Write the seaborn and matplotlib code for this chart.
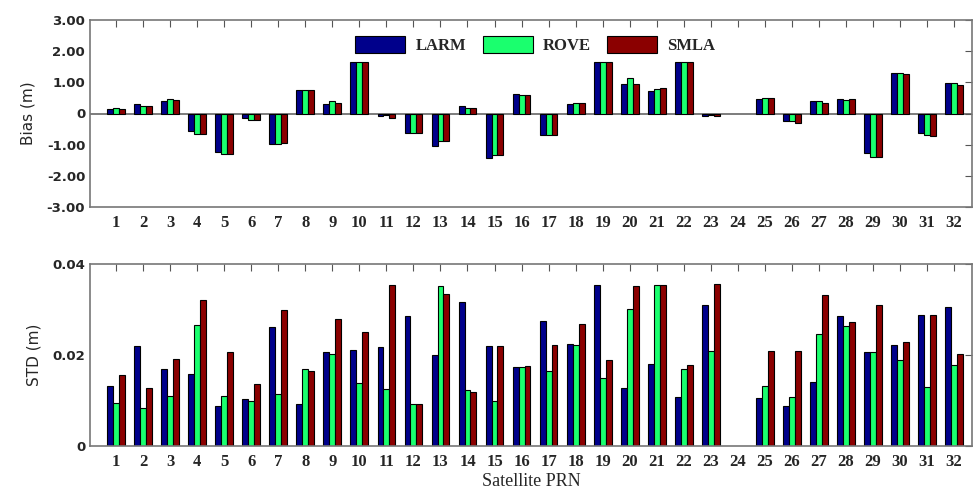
import numpy as np
import pandas as pd
import matplotlib
import matplotlib.pyplot as plt

matplotlib.use("Agg")
import seaborn as sns

sns.set_style("white")

prn = [str(i) for i in range(1, 33)]
receivers = ["LARM", "ROVE", "SMLA"]
colors = ["#00008b", "#1aff6e", "#8b0000"]

# bias (m), values above ~1.65 are cut off in the original
bias_larm = [0.14, 0.30, 0.40, -0.57, -1.22, -0.16, -0.99, 0.75, 0.30, 1.65, -0.09, -0.61, -1.05, 0.24, -1.42, 0.63,
             -0.70, 0.30, 1.65, 0.95, 0.71, 1.65, -0.08, np.nan, 0.47, -0.25, 0.40, 0.47, -1.26, 1.31, -0.62, 0.97]
bias_rove = [0.19, 0.24, 0.46, -0.65, -1.29, -0.22, -0.97, 0.75, 0.41, 1.65, -0.06, -0.61, -0.88, 0.18, -1.33, 0.58,
             -0.70, 0.34, 1.65, 1.15, 0.78, 1.65, -0.04, np.nan, 0.51, -0.25, 0.40, 0.42, -1.38, 1.31, -0.70, 0.99]
bias_smla = [0.15, 0.24, 0.43, -0.65, -1.29, -0.22, -0.94, 0.75, 0.34, 1.65, -0.13, -0.61, -0.88, 0.18, -1.33, 0.58,
             -0.70, 0.35, 1.65, 0.95, 0.83, 1.65, -0.09, np.nan, 0.51, -0.30, 0.34, 0.46, -1.38, 1.27, -0.73, 0.91]

# std (m)
std_larm = [0.0132, 0.0219, 0.0170, 0.0159, 0.0088, 0.0104, 0.0261, 0.0092, 0.0206, 0.0212, 0.0217, 0.0285, 0.0201, 0.0316, 0.0219, 0.0173,
            0.0274, 0.0225, 0.0354, 0.0128, 0.0181, 0.0108, 0.0310, np.nan, 0.0105, 0.0089, 0.0140, 0.0285, 0.0206, 0.0222, 0.0288, 0.0306]
std_rove = [0.0095, 0.0084, 0.0110, 0.0266, 0.0110, 0.0098, 0.0114, 0.0170, 0.0203, 0.0139, 0.0126, 0.0093, 0.0352, 0.0122, 0.0098, 0.0173,
            0.0165, 0.0222, 0.0150, 0.0302, 0.0354, 0.0170, 0.0208, np.nan, 0.0132, 0.0108, 0.0247, 0.0263, 0.0206, 0.0189, 0.0130, 0.0177]
std_smla = [0.0156, 0.0127, 0.0192, 0.0321, 0.0206, 0.0137, 0.0299, 0.0165, 0.0280, 0.0250, 0.0354, 0.0093, 0.0335, 0.0119, 0.0219, 0.0175,
            0.0222, 0.0269, 0.0190, 0.0352, 0.0354, 0.0178, 0.0356, np.nan, 0.0209, 0.0209, 0.0332, 0.0272, 0.0310, 0.0228, 0.0288, 0.0203]

bias_ticks = [3, 2, 1, 0, -1, -2, -3]
bias_labels = ["3.00", "2.00", "1.00", "0", "-1.00", "-2.00", "-3.00"]
std_ticks = [0.04, 0.02, 0]
std_labels = ["0.04", "0.02", "0"]


def long_form(a, b, c, name):
    frames = []
    for rec, vals in zip(receivers, [a, b, c]):
        frames.append(pd.DataFrame({"PRN": prn, name: vals, "Receiver": rec}))
    return pd.concat(frames, ignore_index=True)


df_bias = long_form(bias_larm, bias_rove, bias_smla, "Bias")
df_std = long_form(std_larm, std_rove, std_smla, "STD")

fig = plt.figure(figsize=(9.74, 4.95), dpi=100)
ax1 = fig.add_axes([90 / 974, 1 - 207 / 495, 882 / 974, 187 / 495])
ax2 = fig.add_axes([90 / 974, 1 - 446 / 495, 882 / 974, 182 / 495])

tick_font = {"family": "Liberation Serif", "weight": "bold", "size": 12}

for ax, df, col in [(ax1, df_bias, "Bias"), (ax2, df_std, "STD")]:
    sns.barplot(data=df, x="PRN", y=col, hue="Receiver", palette=colors, order=prn, saturation=1,
                width=0.66, edgecolor="black", linewidth=0.8, ax=ax, legend=(ax is ax1))
    ax.set_xlim(-0.97, 31.67)
    ax.tick_params(axis="both", direction="in", top=True, right=True, length=5, color="#555555")
    ax.tick_params(axis="x", pad=6)
    ax.set_xticks(range(32))
    ax.set_xticklabels(prn, fontdict=tick_font)
    for s in ax.spines.values():
        s.set_color("#777777")
        s.set_linewidth(1.2)

ax1.axhline(0, color="#666666", linewidth=1.2, zorder=0.5)
ax1.set_ylim(-3, 3)
ax1.set_yticks(bias_ticks)
ax1.set_yticklabels(bias_labels, fontsize=9.5, fontweight="bold")
ax1.set_xlabel("")
ax1.set_ylabel("Bias (m)", fontsize=11, labelpad=8)

ax2.set_ylim(0, 0.04)
ax2.set_yticks(std_ticks)
ax2.set_yticklabels(std_labels, fontsize=9.5, fontweight="bold")
ax2.set_ylabel("STD (m)", fontsize=11, labelpad=8)
ax2.set_xlabel("Satellite PRN", fontsize=13, fontfamily="Liberation Serif", labelpad=2)

leg = ax1.legend(loc="upper center", bbox_to_anchor=(0.505, 0.995), ncol=3, frameon=False,
                 handlelength=3.0, handleheight=1.2, columnspacing=1.0, handletextpad=0.6,
                 prop={"family": "Liberation Serif", "weight": "bold", "size": 12})

fig.savefig("out.png", dpi=100)
